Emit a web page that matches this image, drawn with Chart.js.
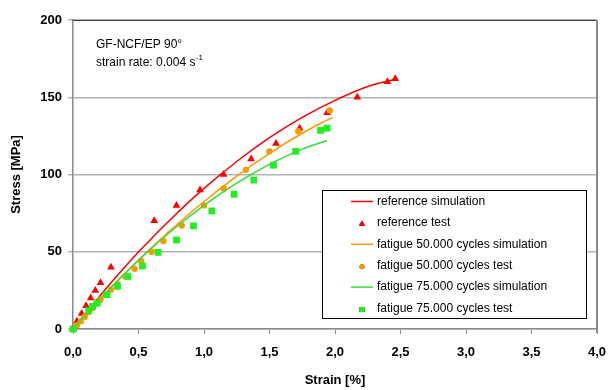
<!DOCTYPE html>
<html>
<head>
<meta charset="utf-8">
<script src="https://cdn.jsdelivr.net/npm/chart.js@4.4.1/dist/chart.umd.min.js"></script>
<style>
  html, body { margin: 0; padding: 0; background: #ffffff; }
  #wrap { width: 610px; height: 390px; position: relative; }
</style>
</head>
<body>
<div id="wrap"><canvas id="c" width="610" height="390"></canvas></div>
<script>
// ---- data ----
const seriesLabels = [
  'reference simulation',
  'reference test',
  'fatigue 50.000 cycles simulation',
  'fatigue 50.000 cycles test',
  'fatigue 75.000 cycles simulation',
  'fatigue 75.000 cycles test'
];

const refSimStrain = [0, 0.25, 0.5, 0.75, 1.0, 1.25, 1.5, 1.75, 2.0, 2.25, 2.45];
const refSimStress = [0, 25.9, 49.8, 71.4, 91, 108.4, 123.8, 137, 148, 157, 161.5];

const refTestStrain = [0, 0.03, 0.066, 0.10, 0.135, 0.17, 0.21, 0.29, 0.62, 0.79, 0.97, 1.15, 1.36, 1.55, 1.73, 1.94, 2.17, 2.40, 2.46];
const refTestStress = [0, 5, 10, 15, 20, 25, 30, 40, 70, 80, 90, 100, 110, 120, 130, 140, 150, 160, 162];

const f50SimStrain = [0, 0.25, 0.5, 0.75, 1.0, 1.25, 1.5, 1.75, 1.98];
const f50SimStress = [0, 23.2, 44.6, 64.4, 82.5, 98.9, 113.6, 126.7, 137];

const f50TestStrain = [0, 0.03, 0.06, 0.09, 0.12, 0.15, 0.18, 0.21, 0.25, 0.29, 0.34, 0.40, 0.47, 0.52, 0.60, 0.69, 0.83, 1.00, 1.15, 1.32, 1.50, 1.72, 1.96];
const f50TestStress = [0, 2.5, 5, 8, 11, 13.5, 16.5, 19, 22, 25.5, 29, 34, 39, 44, 50, 57, 67, 80, 91, 103, 115, 128, 141.5];

const f75SimStrain = [0, 0.25, 0.5, 0.75, 1.0, 1.25, 1.5, 1.75, 1.94];
const f75SimStress = [0, 23.4, 44.5, 63.4, 80, 94.4, 106.5, 116.4, 122];

const f75TestStrain = [0, 0.12, 0.15, 0.185, 0.26, 0.34, 0.42, 0.53, 0.65, 0.79, 0.92, 1.06, 1.23, 1.38, 1.53, 1.70, 1.89, 1.94];
const f75TestStress = [0, 11.9, 14.7, 16.8, 22.2, 27.6, 34, 40.8, 49.6, 57.6, 66.7, 76.4, 87.2, 96.4, 106, 115, 128.6, 130];

const xTickValues = [0, 0.5, 1.0, 1.5, 2.0, 2.5, 3.0, 3.5, 4.0];
const yTickValues = [0, 50, 100, 150, 200];
const annotationLines = ['GF-NCF/EP 90°', 'strain rate: 0.004 s'];
const annotationSup = '-1';

// ---- styling ----
const RED = '#ff0000';
const ORANGE = '#ff9900';
const GREEN = '#22ee22';
const GREEN_LINE = '#33dd33';
const FONT = '"Liberation Sans", Arial, sans-serif';

function pts(xs, ys) { return xs.map((x, i) => ({ x: x, y: ys[i] })); }

function lineDs(label, xs, ys, color, order) {
  return {
    type: 'line', label, data: pts(xs, ys), borderColor: color, backgroundColor: color,
    borderWidth: 1.5, pointRadius: 0, showLine: true, fill: false,
    cubicInterpolationMode: 'monotone', order, clip: 8, isSim: true
  };
}
function markDs(label, xs, ys, color, style, r, order) {
  return {
    type: 'scatter', label, data: pts(xs, ys), borderColor: color, backgroundColor: color,
    pointStyle: style, pointRadius: r, pointBorderWidth: 0, borderWidth: 0, showLine: false,
    order, clip: 8, isSim: false
  };
}

const datasets = [
  lineDs(seriesLabels[0], refSimStrain, refSimStress, RED, 6),
  markDs(seriesLabels[1], refTestStrain, refTestStress, RED, 'triangle', 4.5, 5),
  lineDs(seriesLabels[2], f50SimStrain, f50SimStress, ORANGE, 4),
  markDs(seriesLabels[3], f50TestStrain, f50TestStress, ORANGE, 'circle', 3.2, 3),
  lineDs(seriesLabels[4], f75SimStrain, f75SimStress, GREEN_LINE, 2),
  markDs(seriesLabels[5], f75TestStrain, f75TestStress, GREEN, 'rect', 4.8, 1)
];

const framePlugin = {
  id: 'frame',
  afterDatasetsDraw(chart) {
    const { ctx, chartArea: a } = chart;
    ctx.save();
    // top border
    ctx.strokeStyle = '#404040';
    ctx.lineWidth = 1;
    ctx.beginPath();
    ctx.moveTo(a.left, a.top + 0.5);
    ctx.lineTo(a.right, a.top + 0.5);
    ctx.stroke();
    // right border
    ctx.strokeStyle = '#8a8a8a';
    ctx.lineWidth = 2;
    ctx.beginPath();
    ctx.moveTo(a.right, a.top);
    ctx.lineTo(a.right, a.bottom + 4);
    ctx.stroke();

    // annotation
    ctx.fillStyle = '#000000';
    ctx.font = '12px ' + FONT;
    ctx.textBaseline = 'middle';
    ctx.textAlign = 'left';
    ctx.fillText(annotationLines[0], 96, 45);
    ctx.fillText(annotationLines[1], 96, 63);
    const w = ctx.measureText(annotationLines[1]).width;
    ctx.font = '8px ' + FONT;
    ctx.fillText(annotationSup, 96 + w + 0.5, 58);

    // legend box
    const bx = 322.5, by = 190.5, bw = 264, bh = 128;
    ctx.fillStyle = '#ffffff';
    ctx.fillRect(bx, by, bw, bh);
    ctx.strokeStyle = '#000000';
    ctx.lineWidth = 1;
    ctx.strokeRect(bx, by, bw, bh);
    ctx.font = '12px ' + FONT;
    chart.data.datasets.forEach((ds, i) => {
      const y = 201.5 + i * 21.4;
      if (ds.isSim) {
        ctx.strokeStyle = ds.borderColor;
        ctx.lineWidth = 1.5;
        ctx.beginPath();
        ctx.moveTo(351, y);
        ctx.lineTo(373, y);
        ctx.stroke();
      } else {
        const r = ds.pointStyle === 'triangle' ? 3.5 : (ds.pointStyle === 'rect' ? 3.6 : 2.5);
        Chart.helpers.drawPoint(ctx, { pointStyle: ds.pointStyle, radius: r, borderWidth: 0 }, 362, y + 1);
        ctx.fillStyle = ds.backgroundColor;
        ctx.fill();
      }
      ctx.fillStyle = '#000000';
      ctx.fillText(ds.label, 377, y);
    });
    ctx.restore();
  }
};

new Chart(document.getElementById('c'), {
  type: 'scatter',
  data: { datasets },
  options: {
    responsive: false,
    animation: false,
    devicePixelRatio: 1,
    layout: { padding: { top: 20, right: 13, left: 0, bottom: 0 } },
    plugins: { legend: { display: false }, tooltip: { enabled: false } },
    scales: {
      x: {
        type: 'linear', min: 0, max: 4,
        afterBuildTicks(scale) { scale.ticks = xTickValues.map(v => ({ value: v })); },
        afterFit(scale) { scale.height = 61; scale.paddingLeft = 0; scale.paddingRight = 0; },
        ticks: {
          padding: 11,
          color: '#000000',
          font: { family: FONT, size: 13, weight: 'bold' },
          callback: (v) => Number(v).toFixed(1).replace('.', ',')
        },
        grid: { drawOnChartArea: false, drawTicks: true, tickLength: 5, color: '#8a8a8a', lineWidth: 1 },
        border: { color: '#8a8a8a', width: 1.5 },
        title: {
          display: true, text: 'Strain [%]', color: '#000000',
          font: { family: FONT, size: 13, weight: 'bold' },
          padding: { top: 0, bottom: 2 }
        }
      },
      y: {
        type: 'linear', min: 0, max: 200,
        afterBuildTicks(scale) { scale.ticks = yTickValues.map(v => ({ value: v })); },
        afterFit(scale) { scale.width = 73; scale.paddingTop = 0; scale.paddingBottom = 0; },
        ticks: {
          padding: 6,
          color: '#000000',
          font: { family: FONT, size: 13, weight: 'bold' },
          callback: (v) => String(v)
        },
        grid: { drawOnChartArea: true, drawTicks: true, tickLength: 5, color: '#b4b4b4', lineWidth: 1.5 },
        border: { color: '#8a8a8a', width: 1.5 },
        title: {
          display: true, text: 'Stress [MPa]', color: '#000000',
          font: { family: FONT, size: 13, weight: 'bold' },
          padding: { top: 9, bottom: 0 }
        }
      }
    }
  },
  plugins: [framePlugin]
});
</script>
</body>
</html>
